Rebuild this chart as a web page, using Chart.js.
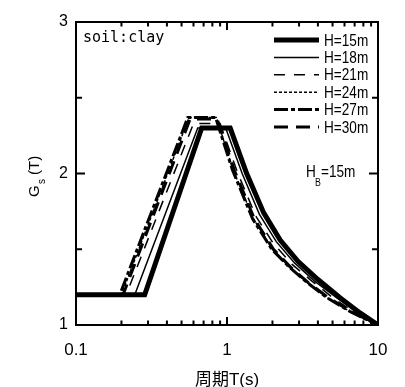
<!DOCTYPE html>
<html>
<head>
<meta charset="utf-8">
<script src="https://cdn.jsdelivr.net/npm/chart.js@4.4.0/dist/chart.umd.min.js"></script>
<style>
  html, body { margin: 0; padding: 0; background: #fff; }
</style>
</head>
<body>
<canvas id="gsChart" width="405" height="387"></canvas>
<script>
// series: period T (s) and Gs(T)
const seriesLabels = ['H=15m', 'H=18m', 'H=21m', 'H=24m', 'H=27m', 'H=30m'];

const periodH15 = [0.1, 0.285, 0.68, 1.05, 1.35, 1.75, 2.25, 2.95, 4.0, 5.6, 7.6, 10];
const gsH15     = [1.2, 1.2, 2.3, 2.3, 2.0, 1.74, 1.56, 1.42, 1.30, 1.18, 1.08, 1.0];

const periodH18 = [0.1, 0.245, 0.64, 0.98, 1.26, 1.64, 2.12, 2.8, 3.8, 5.4, 7.4, 10];
const gsH18     = [1.2, 1.2, 2.3, 2.3, 2.0, 1.73, 1.55, 1.41, 1.29, 1.175, 1.08, 1.0];

const periodH21 = [0.1, 0.215, 0.6, 0.9, 1.17, 1.55, 2.02, 2.7, 3.65, 5.1, 7.1, 10];
const gsH21     = [1.2, 1.2, 2.33, 2.33, 2.01, 1.72, 1.54, 1.4, 1.29, 1.175, 1.08, 1.0];

const periodH24 = [0.1, 0.2, 0.56, 0.85, 1.1, 1.5, 2.0, 2.6, 3.4, 4.6, 6.5, 10];
const gsH24     = [1.2, 1.2, 2.37, 2.37, 2.02, 1.7, 1.5, 1.38, 1.28, 1.18, 1.09, 1.0];

const periodH27 = [0.1, 0.195, 0.55, 0.84, 1.09, 1.48, 1.98, 2.6, 3.4, 4.6, 6.5, 10];
const gsH27     = [1.2, 1.2, 2.37, 2.37, 2.02, 1.7, 1.5, 1.38, 1.28, 1.18, 1.09, 1.0];

const periodH30 = [0.1, 0.205, 0.57, 0.86, 1.12, 1.52, 2.03, 2.65, 3.45, 4.7, 6.6, 10];
const gsH30     = [1.2, 1.2, 2.36, 2.36, 2.02, 1.7, 1.5, 1.38, 1.28, 1.18, 1.09, 1.0];

const xTickValues = [0.1, 1, 10];
const xTickLabels = ['0.1', '1', '10'];
const xMinorTicks = [0.2, 0.3, 0.4, 0.5, 0.6, 0.7, 0.8, 0.9, 2, 3, 4, 5, 6, 7, 8, 9];
const yTickValues = [1, 2, 3];
const yMinorTicks = [1.5, 2.5];

const soilText = 'soil:clay';
const xTitle = '周期T(s)';

const periods = [periodH15, periodH18, periodH21, periodH24, periodH27, periodH30];
const gsValues = [gsH15, gsH18, gsH21, gsH24, gsH27, gsH30];
const lineWidths = [5, 1.5, 1.5, 1.5, 3, 3];
const lineDashes = [[], [], [11, 9], [3, 2], [14, 3, 4, 3], [14, 8]];

const sansFont = '"Liberation Sans", Arial, sans-serif';

const datasets = seriesLabels.map((label, i) => ({
    label: label,
    data: periods[i].map((t, j) => ({ x: t, y: gsValues[i][j] })),
    borderColor: '#000',
    borderWidth: lineWidths[i],
    borderDash: lineDashes[i],
    pointRadius: 0,
    tension: 0,
    fill: false
}));

// condensed text, like the narrow face of the original
function narrowText(ctx, text, x, y, size) {
    ctx.save();
    ctx.translate(x, y);
    ctx.scale(0.8, 1);
    ctx.font = size + 'px ' + sansFont;
    ctx.fillText(text, 0, 0);
    ctx.restore();
}

const decorPlugin = {
    id: 'decor',
    afterDraw(chart) {
        const ctx = chart.ctx;
        const a = chart.chartArea;
        const xs = chart.scales.x, ys = chart.scales.y;
        ctx.save();
        ctx.strokeStyle = '#000';
        ctx.fillStyle = '#000';

        // inward ticks
        ctx.lineWidth = 2;
        const tick = (x1, y1, x2, y2) => { ctx.beginPath(); ctx.moveTo(x1, y1); ctx.lineTo(x2, y2); ctx.stroke(); };
        xTickValues.forEach(v => { const p = xs.getPixelForValue(v); tick(p, a.bottom, p, a.bottom - 8); tick(p, a.top, p, a.top + 8); });
        xMinorTicks.forEach(v => { const p = xs.getPixelForValue(v); tick(p, a.bottom, p, a.bottom - 4.5); tick(p, a.top, p, a.top + 4.5); });
        yTickValues.forEach(v => { const p = ys.getPixelForValue(v); tick(a.left, p, a.left + 9, p); tick(a.right, p, a.right - 9, p); });
        yMinorTicks.forEach(v => { const p = ys.getPixelForValue(v); tick(a.left, p, a.left + 6, p); tick(a.right, p, a.right - 6, p); });

        // frame
        ctx.strokeRect(a.left, a.top, a.right - a.left, a.bottom - a.top);

        // legend
        ctx.textBaseline = 'middle';
        ctx.textAlign = 'left';
        chart.data.datasets.forEach((ds, i) => {
            const y = 40 + i * 17.4;
            ctx.lineWidth = ds.borderWidth;
            ctx.setLineDash(ds.borderDash);
            ctx.beginPath();
            ctx.moveTo(274, y);
            ctx.lineTo(319, y);
            ctx.stroke();
            ctx.setLineDash([]);
            narrowText(ctx, ds.label, 324, y + 1, 17);
        });

        // soil label
        ctx.font = '15px "DejaVu Sans Mono", monospace';
        ctx.textBaseline = 'alphabetic';
        ctx.fillText(soilText, 83, 42);

        // H_B = 15m
        narrowText(ctx, 'H', 306, 177, 17);
        narrowText(ctx, 'B', 315, 186, 11);
        narrowText(ctx, '=15m', 321, 177, 17);

        // y title G_s(T)
        ctx.translate(39, 197);
        ctx.rotate(-Math.PI / 2);
        ctx.font = '15px ' + sansFont;
        ctx.fillText('G', 0, 0);
        ctx.font = '10px ' + sansFont;
        ctx.fillText('s', 13, 6);
        ctx.font = '15px ' + sansFont;
        ctx.fillText('(T)', 22, 0);
        ctx.restore();
    }
};

new Chart(document.getElementById('gsChart'), {
    type: 'line',
    data: { datasets: datasets },
    plugins: [decorPlugin],
    options: {
        responsive: false,
        animation: false,
        layout: { padding: { top: 22, right: 27, left: 0, bottom: 0 } },
        plugins: { legend: { display: false }, tooltip: { enabled: false } },
        scales: {
            x: {
                type: 'logarithmic',
                min: 0.1,
                max: 10,
                afterFit: s => { s.height = 62; },
                afterBuildTicks: s => { s.ticks = xTickValues.map(v => ({ value: v })); },
                grid: { display: false, drawTicks: false },
                border: { display: false },
                ticks: {
                    padding: 15,
                    color: '#000',
                    maxRotation: 0,
                    autoSkip: false,
                    font: { family: sansFont, size: 17 },
                    callback: v => xTickLabels[xTickValues.indexOf(v)]
                },
                title: {
                    display: true,
                    text: xTitle,
                    color: '#000',
                    padding: 0,
                    font: { family: '"Liberation Sans", "Noto Sans CJK SC", sans-serif', size: 17, lineHeight: 0.8 }
                }
            },
            y: {
                type: 'linear',
                min: 1,
                max: 3,
                afterFit: s => { s.width = 76; },
                afterBuildTicks: s => { s.ticks = yTickValues.map(v => ({ value: v })); },
                grid: { display: false, drawTicks: false },
                border: { display: false },
                ticks: {
                    padding: 8,
                    color: '#000',
                    font: { family: sansFont, size: 16 },
                    callback: v => String(v)
                }
            }
        }
    }
});
</script>
</body>
</html>
